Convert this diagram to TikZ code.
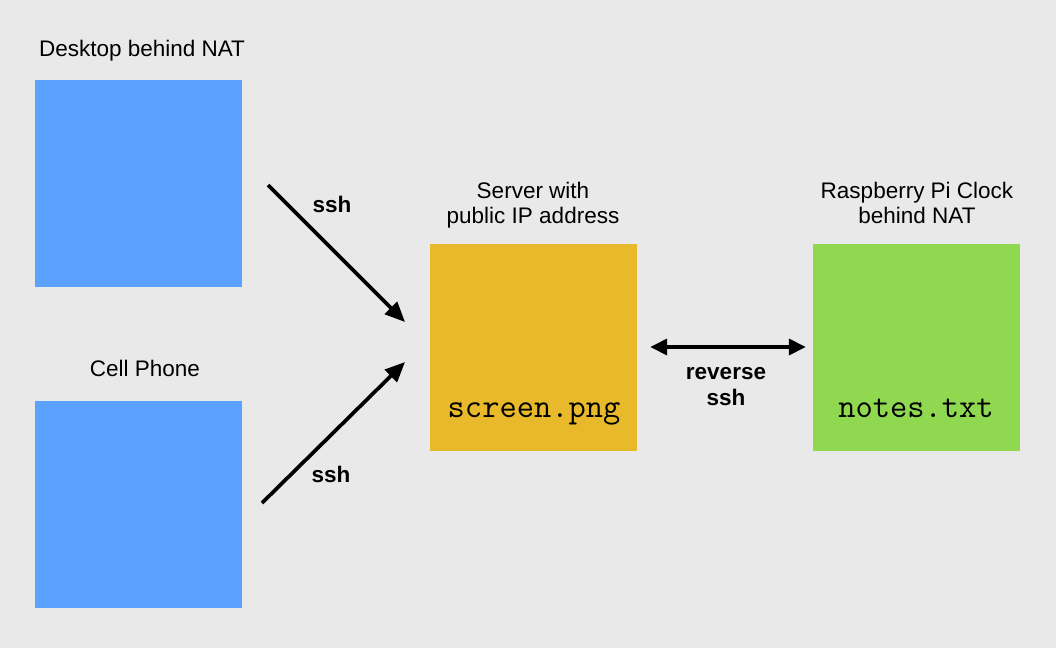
\documentclass[tikz,border=0pt]{standalone}
\usepackage{fontspec}
\setmainfont{Liberation Sans}
\usepackage{tikz}
\usetikzlibrary{arrows.meta, positioning}
\definecolor{bgray}{RGB}{233, 233, 233}
\definecolor{clientblue}{RGB}{91, 162, 255}
\definecolor{servergold}{RGB}{232, 185, 43}
\definecolor{pigreen}{RGB}{144, 216, 79}

\begin{document}
\begin{tikzpicture}[
    x=1pt, y=-1pt,
    box/.style={rectangle, minimum width=207pt, minimum height=207pt, inner sep=0pt},
    caption/.style={inner sep=0pt, align=center, font=\fontsize{22.5}{25}\selectfont},
    edgelabel/.style={inner sep=0pt, align=center, font=\fontsize{22.5}{26}\selectfont\bfseries},
    filename/.style={inner sep=0pt, anchor=base, font=\fontsize{33.5}{36}\selectfont\ttfamily},
    link/.style={line width=3.7pt, -{Triangle[length=20pt, width=17pt]}},
    >=Triangle
  ]

  \fill[bgray] (0,0) rectangle (1056,648);
  \useasboundingbox (0,0) rectangle (1056,648);

  \node[box, fill=clientblue] (desktop) at (138.5, 183.5) {};
  \node[box, fill=clientblue] (phone) at (138.5, 504.5) {};
  \node[box, fill=servergold] (server) at (533.5, 347) {};
  \node[box, fill=pigreen] (pi) at (916.5, 347) {};

  \node[caption, anchor=base] (desktoplbl) at (142, 56) {Desktop behind NAT};
  \node[caption, anchor=base] (phonelbl) at (145, 376) {Cell Phone};
  \node[caption] (serverlbl) at (533, 205) {Server with\\public IP address};
  \node[caption] (pilbl) at (917, 203) {Raspberry Pi Clock\\behind NAT};

  \node[filename] (screenfile) at (534, 417) {screen.png};
  \node[filename] (notesfile) at (916, 417) {notes.txt};

  \coordinate (fromdesktop) at (268, 185);
  \coordinate (todesktop) at (405, 322);
  \coordinate (fromphone) at (262, 503);
  \coordinate (tophone) at (405, 362);

  \foreach \a/\b in {fromdesktop/todesktop, fromphone/tophone} {
    \draw[link] (\a) -- (\b);
  }
  \draw[link, {Triangle[length=17pt, width=16pt]}-{Triangle[length=17pt, width=16pt]},
        shorten <=13pt, shorten >=7pt] (server.east) -- (pi.west);

  \node[edgelabel, anchor=base] (ssha) at (332, 212) {ssh};
  \node[edgelabel, anchor=base] (sshb) at (331, 482) {ssh};
  \node[edgelabel] (revssh) at (726, 387) {reverse\\ssh};

\end{tikzpicture}
\end{document}
